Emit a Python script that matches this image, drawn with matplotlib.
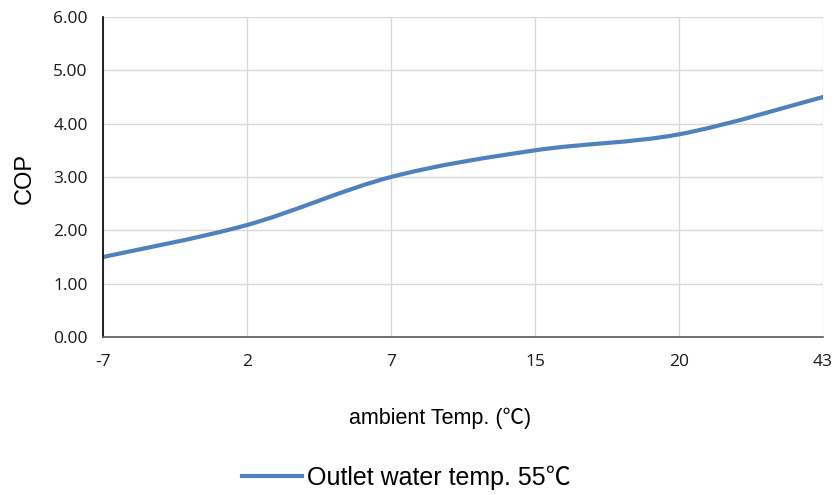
import matplotlib
matplotlib.use("Agg")
import matplotlib.pyplot as plt
from matplotlib.path import Path
from matplotlib.patches import PathPatch
from matplotlib.lines import Line2D

categories = ["-7", "2", "7", "15", "20", "43"]
cop_values = [1.5, 2.1, 3.0, 3.5, 3.8, 4.5]
y_ticks = [0, 1, 2, 3, 4, 5, 6]
series_label = "Outlet water temp. 55\u2103"
x_title = "ambient Temp. (\u2103)"
y_title = "COP"

LINE_COLOR = "#4F81BD"
TXT = ["Liberation Sans", "Noto Sans CJK SC", "DejaVu Sans"]
TICKF = ["Open Sans", "DejaVu Sans"]

fig = plt.figure(figsize=(8.34, 4.95), dpi=100)
ax = fig.add_axes([103/834, 1 - 337/495, (823-103)/834, (337-17)/495])

xs = list(range(len(categories)))
pts = list(zip(xs, cop_values))

# Excel-style smoothed line (cubic Bezier, Catmull-Rom control points)
verts = [pts[0]]
codes = [Path.MOVETO]
n = len(pts)
for i in range(n - 1):
    p0 = pts[i - 1] if i > 0 else pts[i]
    p1 = pts[i]
    p2 = pts[i + 1]
    p3 = pts[i + 2] if i + 2 < n else pts[i + 1]
    c1 = (p1[0] + (p2[0] - p0[0]) / 6, p1[1] + (p2[1] - p0[1]) / 6)
    c2 = (p2[0] - (p3[0] - p1[0]) / 6, p2[1] - (p3[1] - p1[1]) / 6)
    verts += [c1, c2, p2]
    codes += [Path.CURVE4] * 3
patch = PathPatch(Path(verts, codes), facecolor="none", edgecolor=LINE_COLOR,
                  lw=3.0, capstyle="round", joinstyle="round", zorder=3)
ax.add_patch(patch)

ax.set_xlim(0, len(categories) - 1)
ax.set_ylim(0, 6)
ax.set_xticks(xs)
ax.set_xticklabels(categories, family=TICKF, fontsize=12.5, color="#1a1a1a")
ax.set_yticks(y_ticks)
ax.set_yticklabels([f"{v:.2f}" for v in y_ticks], family=TICKF, fontsize=12.5, color="#1a1a1a")
ax.tick_params(axis="both", length=0)
ax.tick_params(axis="x", pad=12)
ax.tick_params(axis="y", pad=11)

ax.grid(True, color="#D9D9D9", lw=1.0)
ax.set_axisbelow(True)
for s in ["top", "right"]:
    ax.spines[s].set_visible(False)
ax.spines["left"].set_color("#000000")
ax.spines["left"].set_linewidth(1.2)
ax.spines["bottom"].set_color("#595959")
ax.spines["bottom"].set_linewidth(1.2)
ax.spines["left"].set_zorder(4)
ax.spines["bottom"].set_zorder(4)

fig.text(440/834, 1 - 418/495, x_title, family=TXT, fontsize=15.5,
         ha="center", va="center", color="#000000")
fig.text(25/834, 1 - 178/495, y_title, family=TXT, fontsize=17,
         ha="center", va="center", rotation=90, color="#000000")

handle = Line2D([0], [0], color=LINE_COLOR, lw=3.0)
fig.legend([handle], [series_label], loc="center", bbox_to_anchor=(406/834, 1 - 478/495),
           frameon=False, prop={"family": TXT, "size": 18}, handlelength=2.4,
           handletextpad=0.2, borderpad=0, borderaxespad=0)

fig.savefig("out.png", dpi=100)
